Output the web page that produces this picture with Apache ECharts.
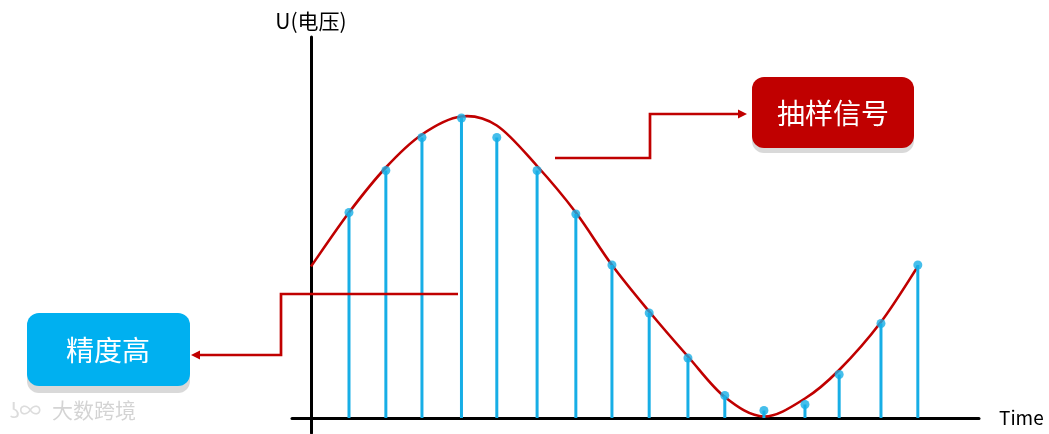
<!DOCTYPE html>
<html>
<head>
<meta charset="utf-8">
<script src="https://cdn.jsdelivr.net/npm/echarts@6/dist/echarts.min.js"></script>
<style>html,body{margin:0;padding:0;background:#fff}#c{width:1049px;height:434px}</style>
</head>
<body>
<div id="c"></div>
<script>
// continuous analog signal
var curveT = [0, 1.0, 1.97, 2.92, 3.95, 4.89, 5.95, 6.97, 7.92, 8.9, 9.92, 10.89, 11.92, 13.0, 13.9, 15.0, 15.97];
var curveU = [1.01, 1.37, 1.67, 1.89, 2.01, 1.95, 1.68, 1.37, 1.02, 0.71, 0.41, 0.14, 0.01, 0.13, 0.32, 0.64, 1.01];
// sampled signal
var sampleT = [1.0, 1.97, 2.92, 3.96, 4.89, 5.95, 6.97, 7.92, 8.9, 9.92, 10.89, 11.92, 13.0, 13.9, 15.0, 15.97];
var sampleU = [1.37, 1.65, 1.87, 2.0, 1.87, 1.65, 1.36, 1.02, 0.7, 0.4, 0.15, 0.05, 0.09, 0.29, 0.63, 1.02];
var xName = 'Time';
var yName = 'U(电压)';
var labelSample = '抽样信号';
var labelPrecision = '精度高';

var RED = '#C00000', BLUE = '#00B0F0', STEM = '#17AEE6';
var cjk = '"Noto Sans CJK SC", "Noto Sans", sans-serif';

var sampleData = sampleT.map(function (t, i) { return [t, sampleU[i]]; });

function renderCurve(params, api) {
  var pts = curveT.map(function (t, i) { return api.coord([t, curveU[i]]); });
  var n = pts.length;
  var d = 'M' + pts[0][0] + ' ' + pts[0][1];
  for (var i = 0; i < n - 1; i++) {
    var p0 = pts[Math.max(i - 1, 0)], p1 = pts[i], p2 = pts[i + 1], p3 = pts[Math.min(i + 2, n - 1)];
    var c1x = p1[0] + (p2[0] - p0[0]) / 6, c1y = p1[1] + (p2[1] - p0[1]) / 6;
    var c2x = p2[0] - (p3[0] - p1[0]) / 6, c2y = p2[1] - (p3[1] - p1[1]) / 6;
    d += ' C' + c1x + ' ' + c1y + ' ' + c2x + ' ' + c2y + ' ' + p2[0] + ' ' + p2[1];
  }
  return {type: 'path', shape: {pathData: d}, style: {stroke: RED, lineWidth: 2.6, fill: 'none'}};
}

var chart = echarts.init(document.getElementById('c'), null, {renderer: 'canvas'});
chart.setOption({
  animation: false,
  backgroundColor: '#fff',
  grid: {left: 292, right: 70, top: 37, bottom: 1},
  xAxis: {
    type: 'value', min: -0.5, max: 17.58,
    axisLine: {show: true, onZero: true, lineStyle: {color: '#000', width: 3}},
    axisTick: {show: false}, axisLabel: {show: false}, splitLine: {show: false},
    name: xName, nameLocation: 'end', nameGap: 20,
    nameTextStyle: {color: '#000', fontSize: 19, fontFamily: cjk, verticalAlign: 'middle'}
  },
  yAxis: {
    type: 'value', min: -0.1, max: 2.54,
    axisLine: {show: true, onZero: true, lineStyle: {color: '#000', width: 3}},
    axisTick: {show: false}, axisLabel: {show: false}, splitLine: {show: false},
    name: yName, nameLocation: 'end', nameGap: 5,
    nameTextStyle: {color: '#000', fontSize: 21, fontFamily: cjk, align: 'center', verticalAlign: 'bottom'}
  },
  series: [
    {
      type: 'custom', data: [[curveT[0], curveU[0]]], renderItem: renderCurve, z: 2, silent: true
    },
    {
      type: 'bar', data: sampleData, barWidth: 3, z: 3,
      itemStyle: {color: STEM}
    },
    {
      type: 'scatter', data: sampleData, symbolSize: 9, z: 4,
      itemStyle: {color: STEM}
    }
  ],
  graphic: [
    // watermark
    {type: 'text', left: 10, top: 399, z: 1,
     style: {text: 'ʖ∞', fontSize: 22, fill: '#dcdcdc', fontFamily: cjk}},
    {type: 'text', left: 52, top: 400, z: 1,
     style: {text: '大数跨境', fontSize: 21, fill: '#d4d4d4', fontFamily: cjk}},
    // blue box with shadow
    {type: 'rect', shape: {x: 27, y: 320, width: 163, height: 73, r: 12}, z: 10,
     style: {fill: '#d9d9d9'}},
    {type: 'rect', shape: {x: 27, y: 313, width: 163, height: 73, r: 12}, z: 11,
     style: {fill: BLUE}},
    {type: 'text', x: 108, y: 350, z: 12,
     style: {text: labelPrecision, fontSize: 28, fill: '#fff', fontFamily: cjk, align: 'center', verticalAlign: 'middle'}},
    // red box with shadow
    {type: 'rect', shape: {x: 752, y: 83, width: 162, height: 70, r: 12}, z: 10,
     style: {fill: '#d9d9d9'}},
    {type: 'rect', shape: {x: 752, y: 77, width: 162, height: 71, r: 12}, z: 11,
     style: {fill: RED}},
    {type: 'text', x: 833, y: 113, z: 12,
     style: {text: labelSample, fontSize: 28, fill: '#fff', fontFamily: cjk, align: 'center', verticalAlign: 'middle'}},
    // connector to red box
    {type: 'polyline', shape: {points: [[555, 158], [650, 158], [650, 114], [740, 114]]}, z: 9,
     style: {stroke: RED, lineWidth: 2.7, fill: null}},
    {type: 'polygon', shape: {points: [[747, 114], [738, 109.5], [738, 118.5]]}, z: 9,
     style: {fill: RED}},
    // connector to blue box
    {type: 'polyline', shape: {points: [[458, 294], [281, 294], [281, 355], [199, 355]]}, z: 9,
     style: {stroke: RED, lineWidth: 2.7, fill: null}},
    {type: 'polygon', shape: {points: [[191, 355], [200, 350.5], [200, 359.5]]}, z: 9,
     style: {fill: RED}}
  ]
});
</script>
</body>
</html>
